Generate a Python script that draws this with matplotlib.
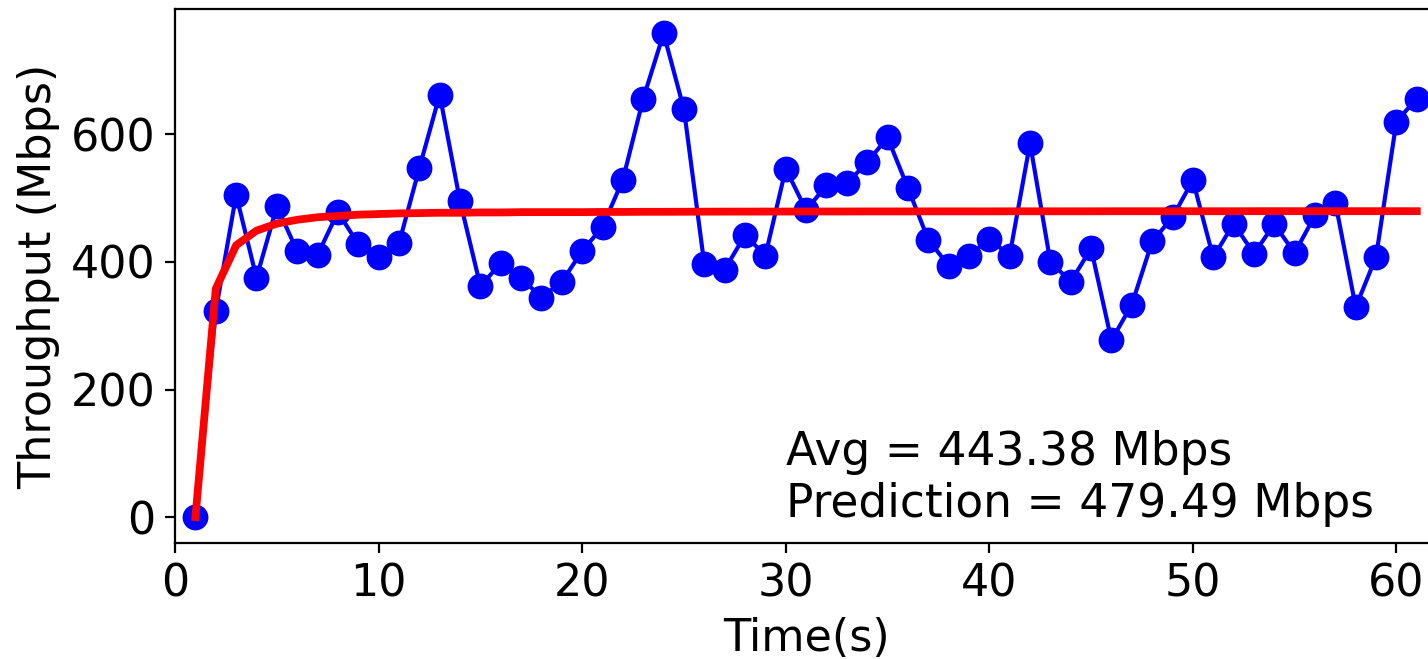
import matplotlib
matplotlib.use("Agg")
import matplotlib.pyplot as plt

plt.rcParams.update({
    "font.family": "DejaVu Sans",
    "font.size": 16,
})

# time in seconds
time_s = list(range(1, 62))

throughput = [
    0, 323, 505, 375, 487, 417, 411, 478, 428, 407,
    429, 547, 662, 495, 362, 398, 375, 344, 369, 417,
    455, 529, 656, 758, 639, 396, 388, 442, 410, 546,
    481, 520, 523, 556, 595, 516, 435, 394, 410, 436,
    410, 586, 400, 369, 421, 277, 333, 432, 470, 528,
    407, 460, 413, 459, 414, 473, 493, 329, 408, 620,
    656,
]

# predicted throughput (Mbps)
prediction = [
    0, 358, 426, 449, 460, 466, 470, 472, 474, 475,
    476, 476.5, 477, 477, 477.5, 477.5, 478, 478, 478, 478,
    478.3, 478.3, 478.5, 478.5, 478.6, 478.7, 478.8, 478.8, 478.9, 478.9,
    479, 479, 479, 479.1, 479.1, 479.1, 479.2, 479.2, 479.2, 479.2,
    479.3, 479.3, 479.3, 479.3, 479.3, 479.4, 479.4, 479.4, 479.4, 479.4,
    479.4, 479.4, 479.5, 479.5, 479.5, 479.5, 479.5, 479.5, 479.5, 479.5,
    479.49,
]

avg_label = "Avg = 443.38 Mbps\nPrediction = 479.49 Mbps"

fig = plt.figure(figsize=(7.14, 3.295), dpi=200)
ax = fig.add_axes([0.1226, 0.1756, 0.8838, 0.8104])

ax.plot(time_s, throughput, color="blue", linewidth=1.5, marker="o", markersize=8.3)
ax.plot(time_s, prediction, color="red", linewidth=2.8)

ax.text(30, 0, avg_label, fontsize=16.4, ha="left", va="baseline")

ax.set_xlim(0, 62)
ax.set_ylim(-41, 796)
ax.set_xlabel("Time(s)")
ax.set_ylabel("Throughput (Mbps)")

fig.savefig("out.png", dpi=200)
